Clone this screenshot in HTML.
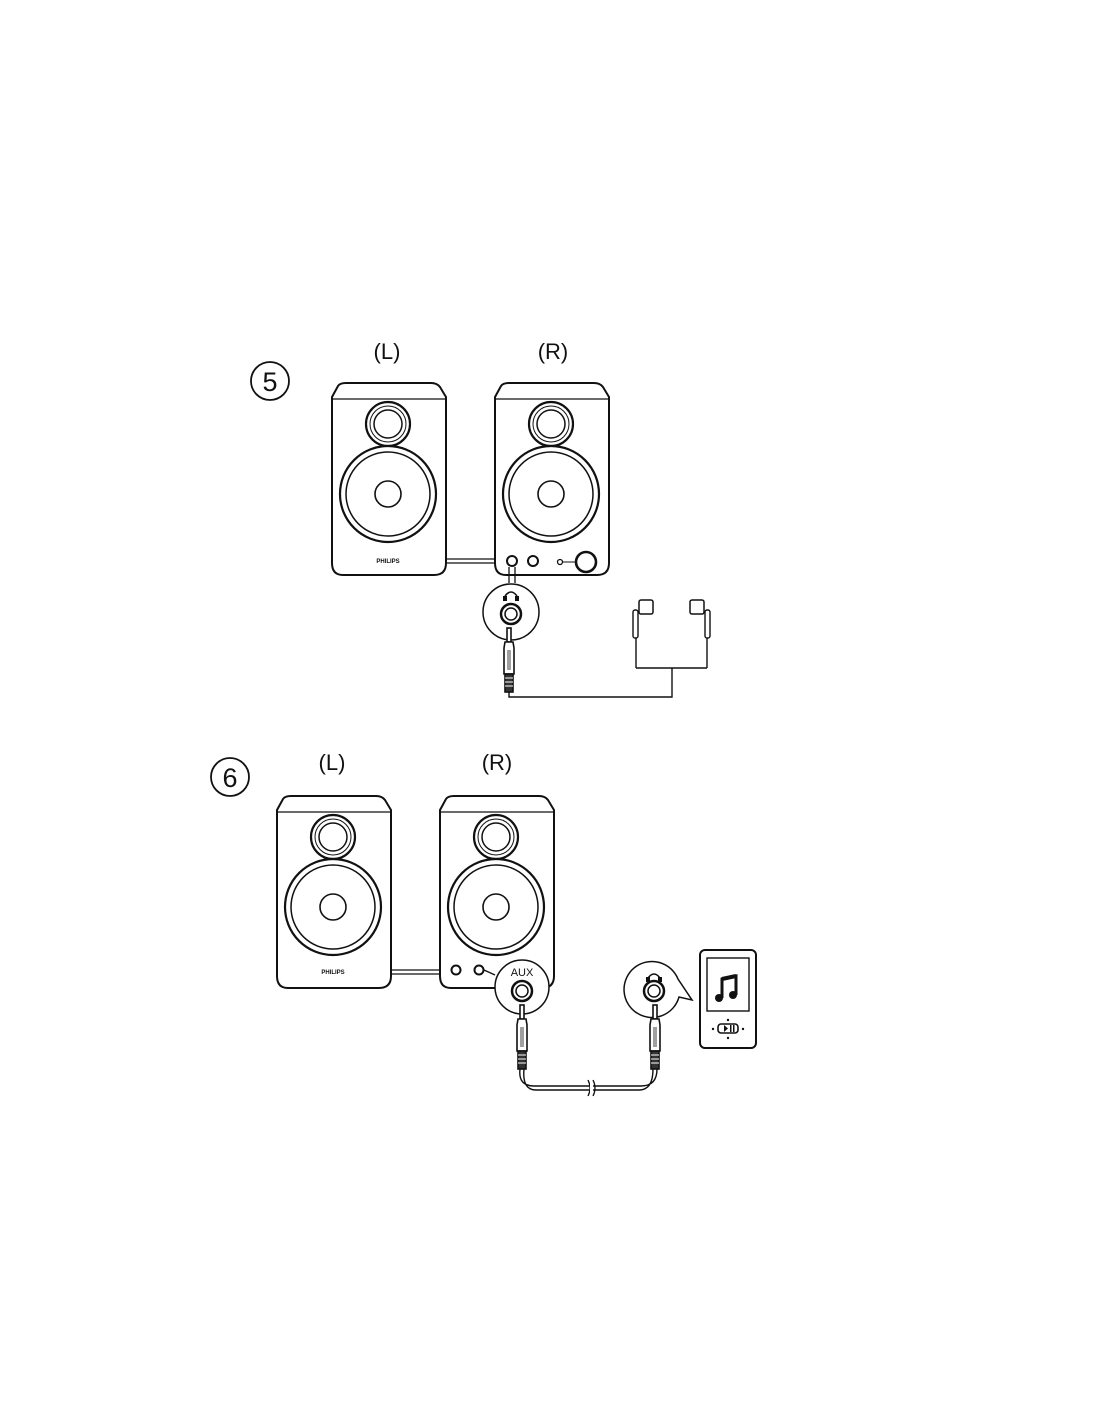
<!DOCTYPE html>
<html><head><meta charset="utf-8"><style>
html,body{margin:0;padding:0;background:#fff}
svg{display:block}
text{font-family:"Liberation Sans",sans-serif;fill:#111}
</style></head><body>
<svg width="1100" height="1422" viewBox="0 0 1100 1422" xmlns="http://www.w3.org/2000/svg">
<defs>
<g id="spk" fill="#fff" stroke="#111" stroke-width="2">
<path d="M8,3 Q10,0 16,0 H101 Q107,0 110,4 L116,14 V180 Q116,192 104,192 H13 Q2,192 2,180 V14 Z"/>
<path d="M2,16 H116" stroke-width="1.3"/>
<circle cx="58" cy="41" r="22" stroke-width="2.2"/>
<circle cx="58" cy="41" r="18" stroke-width="1"/>
<circle cx="58" cy="41" r="14" stroke-width="1.5"/>
<circle cx="58" cy="111" r="48" stroke-width="2.2"/>
<circle cx="58" cy="111" r="42" stroke-width="1.5"/>
<circle cx="58" cy="111" r="13" stroke-width="1.6"/>
</g>
<g id="plug" fill="#fff" stroke="#111" stroke-width="1.6">
<rect x="-2" y="0" width="4" height="14"/>
<path d="M-4,14 H4 L5,20 V46 H-5 V20 Z"/>
<path d="M-1,22 V42 M1,22 V42" stroke-width="0.8"/>
<rect x="-4" y="46" width="8" height="18" fill="#333"/>
<path d="M-4,50 H4 M-4,54 H4 M-4,58 H4" stroke="#fff" stroke-width="1"/>
</g>
</defs>

<!-- Figure 5 -->
<circle cx="270" cy="381" r="19" fill="none" stroke="#111" stroke-width="1.8"/>
<text x="270" y="391" font-size="27" text-anchor="middle">5</text>
<text x="387" y="359" font-size="22" text-anchor="middle">(L)</text>
<text x="553" y="359" font-size="22" text-anchor="middle">(R)</text>
<path d="M446,559 H494 M446,563 H494" stroke="#111" stroke-width="1.3"/>
<use href="#spk" x="330" y="383"/>
<use href="#spk" x="493" y="383"/>
<text x="388" y="563" font-size="6" font-weight="bold" text-anchor="middle">PHILIPS</text>
<circle cx="512" cy="561" r="5" fill="#fff" stroke="#111" stroke-width="2"/>
<circle cx="533" cy="561" r="5" fill="#fff" stroke="#111" stroke-width="2"/>
<circle cx="560" cy="562" r="2.5" fill="#fff" stroke="#111" stroke-width="1.3"/>
<path d="M563,562 H576" stroke="#111" stroke-width="1"/>
<circle cx="586" cy="562" r="10" fill="#fff" stroke="#111" stroke-width="2.6"/>
<!-- callout -->
<path d="M509,567 V583 M515,567 V583" stroke="#111" stroke-width="1.3"/>
<circle cx="511" cy="612" r="28" fill="#fff" stroke="#111" stroke-width="1.5"/>
<path d="M505,596 Q511,588 517,596" fill="none" stroke="#111" stroke-width="1.6"/>
<rect x="503" y="596" width="4" height="5" fill="#111"/><rect x="515" y="596" width="4" height="5" fill="#111"/>
<circle cx="511" cy="614" r="10" fill="#fff" stroke="#111" stroke-width="2.5"/>
<circle cx="511" cy="614" r="6" fill="#fff" stroke="#111" stroke-width="1.5"/>
<use href="#plug" x="509" y="628"/>
<path d="M509,692 V697 H672 V668 M636,668 H707 M636,668 V625 M707,668 V625" fill="none" stroke="#111" stroke-width="1.4"/>
<rect x="633" y="610" width="5" height="28" rx="2" fill="#fff" stroke="#111" stroke-width="1.4"/>
<rect x="705" y="610" width="5" height="28" rx="2" fill="#fff" stroke="#111" stroke-width="1.4"/>
<rect x="639" y="600" width="14" height="14" rx="2" fill="#fff" stroke="#111" stroke-width="1.5"/>
<rect x="690" y="600" width="14" height="14" rx="2" fill="#fff" stroke="#111" stroke-width="1.5"/>

<!-- Figure 6 -->
<circle cx="230" cy="777" r="19" fill="none" stroke="#111" stroke-width="1.8"/>
<text x="230" y="787" font-size="27" text-anchor="middle">6</text>
<text x="332" y="770" font-size="22" text-anchor="middle">(L)</text>
<text x="497" y="770" font-size="22" text-anchor="middle">(R)</text>
<path d="M391,970 H440 M391,974 H440" stroke="#111" stroke-width="1.3"/>
<use href="#spk" x="275" y="796"/>
<use href="#spk" x="438" y="796"/>
<text x="333" y="974" font-size="6" font-weight="bold" text-anchor="middle">PHILIPS</text>
<circle cx="456" cy="970" r="4.5" fill="#fff" stroke="#111" stroke-width="2"/>
<circle cx="479" cy="970" r="4.5" fill="#fff" stroke="#111" stroke-width="2"/>
<path d="M484,970 L495,975" stroke="#111" stroke-width="1.3"/>
<circle cx="522" cy="987" r="27" fill="#fff" stroke="#111" stroke-width="1.5"/>
<text x="522" y="976" font-size="11" text-anchor="middle">AUX</text>
<circle cx="522" cy="991" r="10" fill="#fff" stroke="#111" stroke-width="2.5"/>
<circle cx="522" cy="991" r="6" fill="#fff" stroke="#111" stroke-width="1.5"/>
<use href="#plug" x="522" y="1005"/>
<path d="M692,996 L680,987 A28,28 0 1 0 680,993 Z" fill="none" stroke="none"/>
<path d="M678,979 A28,28 0 1 0 679,997 L692,1000 Z" fill="#fff" stroke="#111" stroke-width="1.5"/>
<path d="M648,978 Q654,970 660,978" fill="none" stroke="#111" stroke-width="1.6"/>
<rect x="646" y="977" width="4" height="5" fill="#111"/><rect x="658" y="977" width="4" height="5" fill="#111"/>
<circle cx="654" cy="991" r="10" fill="#fff" stroke="#111" stroke-width="2.5"/>
<circle cx="654" cy="991" r="6" fill="#fff" stroke="#111" stroke-width="1.5"/>
<use href="#plug" x="655" y="1005"/>
<path d="M520,1069 Q518,1086 534,1086 H641 Q657,1086 657,1069 M524,1069 Q522,1090 536,1090 H639 Q653,1090 653,1069" fill="none" stroke="#111" stroke-width="1.4"/>
<path d="M588,1080 Q592,1088 588,1096 M593,1080 Q597,1088 593,1096" fill="none" stroke="#111" stroke-width="1.3"/>
<rect x="590" y="1083" width="3" height="10" fill="#fff"/>
<!-- player -->
<rect x="700" y="950" width="56" height="98" rx="5" fill="#fff" stroke="#111" stroke-width="2"/>
<rect x="707" y="958" width="42" height="53" fill="#fff" stroke="#111" stroke-width="1.4"/>
<path d="M722,998 V979 L736,976 V995" fill="none" stroke="#111" stroke-width="3"/>
<path d="M722,979 L736,976" stroke="#111" stroke-width="4"/>
<circle cx="719" cy="998" r="4" fill="#111"/><circle cx="733" cy="995" r="4" fill="#111"/>
<rect x="718" y="1024" width="20" height="9" rx="3" fill="#fff" stroke="#111" stroke-width="1.6"/>
<path d="M724,1025 L728,1028.5 L724,1032 Z" fill="#111"/><rect x="730" y="1025" width="1.5" height="7" fill="#111"/><rect x="733" y="1025" width="1.5" height="7" fill="#111"/>
<circle cx="728" cy="1020" r="1.2" fill="#111"/><circle cx="728" cy="1038" r="1.2" fill="#111"/>
<circle cx="713" cy="1029" r="1.2" fill="#111"/><circle cx="743" cy="1029" r="1.2" fill="#111"/>
</svg>
</body></html>
